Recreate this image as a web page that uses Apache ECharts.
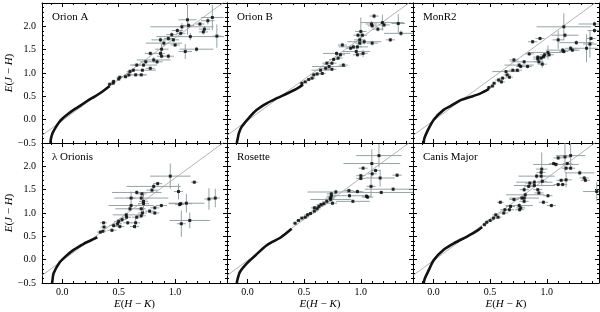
<!DOCTYPE html>
<html><head><meta charset="utf-8">
<script src="https://cdn.jsdelivr.net/npm/echarts@6/dist/echarts.min.js"></script>
<style>html,body{margin:0;padding:0;background:#fff}#c{width:600px;height:312px}</style>
</head><body><div id="c"></div>
<script>
// ---------- data ----------
const panelNames = ['Orion A', 'Orion B', 'MonR2', 'λ Orionis', 'Rosette', 'Canis Major'];
const xMajorTicks = [0.0, 0.5, 1.0];
const yTickLabels = ['−0.5', '0.0', '0.5', '1.0', '1.5', '2.0'];
const refSlope = 1.77, refIntercept = -0.02;

// intrinsic (dense) locus per panel: [E(H-K), E(J-H)]
const curveOrionA = [[-0.105,-0.5],[-0.1,-0.4],[-0.085,-0.28],[-0.06,-0.17],[-0.03,-0.06],[0.0,0.02],[0.05,0.12],[0.10,0.21],[0.16,0.30],[0.22,0.40],[0.29,0.50],[0.36,0.61],[0.42,0.72]];
const curveOrionB = [[-0.094,-0.5],[-0.085,-0.4],[-0.075,-0.29],[-0.05,-0.15],[0.01,0.03],[0.083,0.21],[0.17,0.35],[0.26,0.46],[0.35,0.56],[0.44,0.67],[0.49,0.75]];
const curveMonR2 = [[-0.086,-0.5],[-0.08,-0.4],[-0.056,-0.26],[0.003,0.0],[0.09,0.21],[0.15,0.29],[0.24,0.42],[0.33,0.49],[0.42,0.57],[0.49,0.66]];
const curveLambdaOri = [[-0.09,-0.5],[-0.085,-0.4],[-0.077,-0.29],[-0.03,-0.08],[0.027,0.065],[0.10,0.21],[0.19,0.34],[0.25,0.41],[0.31,0.48]];
const curveRosette = [[-0.094,-0.5],[-0.085,-0.4],[-0.065,-0.26],[-0.005,-0.08],[0.07,0.09],[0.17,0.31],[0.29,0.47],[0.35,0.58],[0.39,0.66]];
const curveCMa = [[-0.086,-0.5],[-0.075,-0.4],[-0.04,-0.22],[0.003,-0.01],[0.09,0.21],[0.18,0.35],[0.30,0.50],[0.38,0.61],[0.43,0.70]];

// individual stars: [E(H-K), E(J-H), err E(H-K), err E(J-H)]
const starsOrionA = [[1.33,2.19,0.10,0.27],[1.29,2.12,0.06,0.08],[1.26,1.94,0.05,0.06],[1.25,1.88,0.04,0.05],[1.37,1.79,0.04,0.25],[1.22,2.05,0.04,0.04],[1.11,2.14,0.08,0.32],[1.12,2.02,0.05,0.06],[1.06,1.99,0.28,0.08],[1.02,1.91,0.05,0.05],[1.05,1.85,0.04,0.05],[1.135,1.78,0.30,0.08],[0.97,1.82,0.05,0.05],[0.94,1.74,0.04,0.05],[0.985,1.71,0.05,0.04],[0.87,1.71,0.08,0.05],[0.90,1.64,0.16,0.06],[1.00,1.60,0.04,0.04],[1.09,1.46,0.06,0.16],[1.19,1.51,0.15,0.05],[0.88,1.51,0.06,0.12],[0.87,1.42,0.04,0.05],[0.88,1.36,0.04,0.04],[0.94,1.36,0.05,0.05],[0.78,1.42,0.05,0.04],[0.81,1.28,0.15,0.06],[0.84,1.24,0.05,0.05],[0.74,1.24,0.05,0.04],[0.72,1.17,0.12,0.04],[0.78,1.10,0.04,0.04],[0.66,1.17,0.04,0.04],[0.63,1.06,0.04,0.03],[0.71,1.06,0.12,0.03],[0.70,0.96,0.04,0.03],[0.60,1.03,0.03,0.03],[0.59,0.96,0.03,0.03],[0.65,0.96,0.10,0.03],[0.56,0.92,0.03,0.03],[0.51,0.91,0.03,0.02],[0.50,0.87,0.02,0.02],[0.455,0.82,0.02,0.02],[0.42,0.76,0.02,0.02],[0.45,0.78,0.02,0.02]];
const starsOrionB = [[1.117,2.22,0.04,0.05],[1.094,2.05,0.05,0.06],[1.10,2.01,0.04,0.05],[1.19,2.08,0.19,0.17],[1.205,2.03,0.05,0.05],[1.33,2.06,0.06,0.20],[1.354,1.85,0.15,0.06],[1.26,1.71,0.04,0.04],[1.15,1.94,0.05,0.05],[1.00,1.89,0.05,0.30],[0.975,1.81,0.04,0.05],[1.014,1.81,0.04,0.04],[0.99,1.71,0.05,0.05],[1.03,1.67,0.15,0.06],[0.99,1.64,0.04,0.04],[0.934,1.56,0.13,0.05],[0.97,1.56,0.04,0.05],[0.91,1.53,0.04,0.04],[0.837,1.60,0.04,0.04],[0.96,1.46,0.12,0.08],[1.02,1.42,0.04,0.08],[0.97,1.39,0.04,0.04],[1.10,1.64,0.05,0.05],[0.786,1.42,0.12,0.04],[0.82,1.39,0.04,0.04],[0.80,1.32,0.04,0.04],[0.76,1.29,0.04,0.04],[0.745,1.21,0.04,0.04],[0.846,1.17,0.04,0.04],[0.70,1.21,0.04,0.04],[0.72,1.14,0.15,0.04],[0.69,1.10,0.04,0.03],[0.745,1.08,0.04,0.03],[0.645,1.06,0.08,0.03],[0.66,0.99,0.03,0.03],[0.615,0.98,0.03,0.03],[0.585,0.96,0.03,0.03],[0.57,0.89,0.03,0.03],[0.54,0.86,0.02,0.02],[0.51,0.81,0.02,0.02],[0.48,0.78,0.02,0.02]];
const starsMonR2 = [[1.15,1.99,0.24,0.29],[1.16,1.81,0.12,0.05],[1.42,2.05,0.14,0.05],[1.42,1.91,0.06,0.05],[1.10,1.71,0.05,0.20],[1.26,1.65,0.15,0.05],[1.39,1.74,0.04,0.04],[1.38,1.62,0.06,0.29],[1.21,1.53,0.05,0.05],[1.14,1.49,0.15,0.05],[1.15,1.46,0.04,0.04],[1.225,1.49,0.04,0.04],[1.35,1.53,0.10,0.30],[0.94,1.74,0.04,0.04],[0.875,1.67,0.04,0.04],[1.01,1.44,0.15,0.15],[1.02,1.39,0.04,0.04],[0.98,1.39,0.04,0.04],[0.97,1.35,0.04,0.04],[0.95,1.32,0.04,0.04],[0.92,1.30,0.04,0.04],[0.93,1.24,0.04,0.04],[0.92,1.34,0.04,0.04],[0.96,1.19,0.04,0.08],[0.845,1.41,0.04,0.04],[0.80,1.24,0.12,0.04],[0.83,1.14,0.04,0.04],[0.71,1.28,0.04,0.04],[0.756,1.17,0.13,0.04],[0.77,1.14,0.04,0.04],[0.70,1.06,0.04,0.03],[0.74,1.06,0.04,0.03],[0.64,1.03,0.12,0.03],[0.65,0.96,0.03,0.03],[0.67,0.91,0.03,0.03],[0.61,0.89,0.03,0.03],[0.60,0.81,0.03,0.03],[0.575,0.85,0.03,0.03],[0.535,0.78,0.02,0.02],[0.52,0.72,0.02,0.02],[0.49,0.69,0.02,0.02]];
const starsLambdaOri = [[0.957,1.79,0.18,0.27],[1.17,1.66,0.03,0.03],[0.845,1.63,0.04,0.04],[0.81,1.57,0.24,0.05],[0.795,1.49,0.05,0.05],[1.03,1.46,0.04,0.17],[0.66,1.44,0.22,0.05],[0.706,1.41,0.04,0.04],[0.70,1.32,0.24,0.05],[0.61,1.32,0.04,0.14],[0.72,1.25,0.04,0.05],[0.72,1.20,0.05,0.20],[1.30,1.30,0.04,0.23],[1.356,1.32,0.04,0.20],[1.05,1.20,0.10,0.04],[1.04,1.18,0.04,0.04],[1.10,1.21,0.16,0.20],[0.878,1.16,0.05,0.04],[0.82,1.11,0.04,0.04],[0.82,1.00,0.04,0.04],[0.774,1.04,0.04,0.04],[0.61,1.16,0.20,0.05],[0.60,1.09,0.13,0.05],[0.70,1.09,0.04,0.04],[0.71,1.00,0.04,0.04],[0.70,0.94,0.04,0.04],[0.66,0.91,0.04,0.04],[0.567,0.96,0.12,0.04],[0.57,0.91,0.04,0.04],[0.53,0.86,0.04,0.04],[0.50,0.82,0.04,0.04],[0.49,0.77,0.04,0.04],[0.65,0.79,0.04,0.12],[0.64,0.71,0.04,0.04],[0.58,0.79,0.04,0.04],[0.455,0.73,0.04,0.04],[0.44,0.63,0.04,0.04],[0.51,0.71,0.04,0.04],[0.366,0.79,0.03,0.03],[0.37,0.70,0.03,0.03],[0.36,0.61,0.03,0.03],[0.337,0.59,0.03,0.03],[1.13,0.84,0.18,0.17],[1.055,0.77,0.04,0.28]];
const starsRosette = [[1.16,2.23,0.20,0.25],[1.02,1.96,0.04,0.04],[1.097,2.06,0.25,0.30],[1.13,1.91,0.04,0.04],[1.10,1.84,0.04,0.04],[1.00,1.80,0.04,0.04],[1.00,1.74,0.04,0.04],[1.17,1.75,0.13,0.18],[1.32,1.81,0.04,0.04],[1.09,1.57,0.04,0.23],[1.18,1.44,0.30,0.04],[1.285,1.51,0.25,0.04],[1.05,1.36,0.04,0.04],[1.06,1.34,0.05,0.04],[0.97,1.46,0.04,0.04],[0.895,1.48,0.04,0.04],[0.90,1.37,0.16,0.04],[0.93,1.25,0.15,0.04],[0.78,1.45,0.25,0.05],[0.74,1.41,0.04,0.05],[0.74,1.36,0.04,0.04],[0.735,1.29,0.18,0.04],[0.73,1.32,0.04,0.04],[0.75,1.21,0.04,0.04],[0.70,1.25,0.04,0.04],[0.674,1.20,0.04,0.04],[0.65,1.18,0.04,0.04],[0.63,1.14,0.04,0.04],[0.615,1.09,0.03,0.03],[0.59,1.11,0.03,0.03],[0.59,1.04,0.03,0.03],[0.556,0.99,0.03,0.03],[0.53,0.96,0.03,0.03],[0.51,0.91,0.03,0.03],[0.48,0.89,0.02,0.02],[0.45,0.84,0.02,0.02],[0.42,0.78,0.02,0.02]];
const starsCMa = [[1.16,2.20,0.05,0.32],[1.10,2.18,0.04,0.04],[1.21,2.23,0.13,0.27],[1.06,2.06,0.04,0.04],[1.08,2.04,0.20,0.05],[1.18,2.06,0.04,0.04],[1.17,1.96,0.04,0.04],[1.21,1.96,0.04,0.04],[1.29,1.86,0.13,0.05],[1.33,1.75,0.04,0.04],[1.34,1.70,0.04,0.04],[1.44,1.46,0.12,0.20],[1.17,1.71,0.05,0.16],[1.126,1.70,0.04,0.04],[1.10,1.61,0.04,0.04],[1.14,1.61,0.04,0.04],[0.955,1.94,0.05,0.36],[0.95,1.87,0.04,0.04],[0.91,1.79,0.16,0.05],[0.95,1.79,0.04,0.04],[0.96,1.68,0.04,0.04],[0.89,1.66,0.16,0.05],[0.89,1.59,0.18,0.05],[0.85,1.64,0.04,0.04],[0.84,1.57,0.04,0.04],[0.92,1.50,0.04,0.04],[0.93,1.43,0.04,0.04],[1.01,1.37,0.04,0.04],[0.97,1.23,0.04,0.04],[1.04,1.16,0.04,0.04],[0.80,1.50,0.04,0.05],[0.81,1.39,0.17,0.05],[0.80,1.32,0.13,0.05],[0.80,1.25,0.04,0.05],[0.78,1.32,0.04,0.04],[0.756,1.16,0.12,0.05],[0.77,1.11,0.04,0.04],[0.76,1.07,0.04,0.04],[0.71,1.29,0.04,0.04],[0.68,1.14,0.04,0.04],[0.67,1.07,0.04,0.04],[0.59,1.23,0.03,0.03],[0.63,1.07,0.04,0.04],[0.62,1.00,0.04,0.04],[0.55,0.96,0.03,0.03],[0.57,0.91,0.03,0.03],[0.53,0.89,0.03,0.03],[0.50,0.84,0.03,0.03],[0.47,0.80,0.02,0.02],[0.45,0.75,0.02,0.02]];

const curves = [curveOrionA, curveOrionB, curveMonR2, curveLambdaOri, curveRosette, curveCMa];
const stars = [starsOrionA, starsOrionB, starsMonR2, starsLambdaOri, starsRosette, starsCMa];

// ---------- layout / style ----------
const X_MIN = -0.18, X_MAX = 1.46, Y_MIN = -0.5, Y_MAX = 2.5;
const colLeft = [42, 227, 413], colWidth = [185, 186, 186];
const rowTop = [3, 143], rowHeight = 140;
const FONT = 'Liberation Serif';
const ERR_COLOR = '#95a3a3';
const LINE_COLOR = '#a0a0a0';

const xMinorTicks = [];
for (let v = -0.1; v < X_MAX; v += 0.1) {
  const r = Math.round(v * 10) / 10;
  if (Math.abs(r * 2 - Math.round(r * 2)) > 1e-6) xMinorTicks.push(r);
}

const grids = [], xAxes = [], yAxes = [], series = [], graphics = [];

function yFmt(v) {
  const idx = Math.round((v - Y_MIN) / 0.5);
  return yTickLabels[idx] !== undefined ? yTickLabels[idx] : '';
}

function renderErr(params, api) {
  const x = api.value(0), y = api.value(1), xe = api.value(2), ye = api.value(3);
  const cs = params.coordSys;
  const cx = v => Math.max(cs.x, Math.min(cs.x + cs.width, v));
  const cy = v => Math.max(cs.y, Math.min(cs.y + cs.height, v));
  const l = api.coord([x - xe, y]), r = api.coord([x + xe, y]);
  const t = api.coord([x, y + ye]), b = api.coord([x, y - ye]);
  const style = { stroke: ERR_COLOR, lineWidth: 1 };
  return { type: 'group', children: [
    { type: 'line', shape: { x1: cx(l[0]), y1: l[1], x2: cx(r[0]), y2: r[1] }, style },
    { type: 'line', shape: { x1: t[0], y1: cy(t[1]), x2: b[0], y2: cy(b[1]) }, style }
  ]};
}

for (let i = 0; i < 6; i++) {
  const row = Math.floor(i / 3), col = i % 3;
  grids.push({ left: colLeft[col], top: rowTop[row], width: colWidth[col], height: rowHeight, containLabel: false });
  const xBase = {
    type: 'value', gridIndex: i, min: X_MIN, max: X_MAX,
    axisLine: { show: true, onZero: false, lineStyle: { color: '#000', width: 1 } },
    splitLine: { show: false }
  };
  ['bottom', 'top'].forEach(pos => {
    xAxes.push(Object.assign({}, xBase, {
      position: pos,
      axisTick: { show: true, inside: true, length: 4, customValues: xMajorTicks, lineStyle: { color: '#000' } },
      axisLabel: { show: pos === 'bottom' && row === 1, customValues: xMajorTicks, margin: 4,
        formatter: v => v.toFixed(1), fontFamily: FONT, fontSize: 10, color: '#000' }
    }));
  });
  ['bottom', 'top'].forEach(pos => {
    xAxes.push(Object.assign({}, xBase, {
      position: pos, axisLine: { show: false, onZero: false },
      axisTick: { show: true, inside: true, length: 2, customValues: xMinorTicks, lineStyle: { color: '#000' } },
      axisLabel: { show: false }
    }));
  });
  ['left', 'right'].forEach(pos => {
    yAxes.push({
      type: 'value', gridIndex: i, min: Y_MIN, max: Y_MAX, interval: 0.5, position: pos,
      axisLine: { show: true, onZero: false, lineStyle: { color: '#000', width: 1 } },
      splitLine: { show: false },
      axisTick: { show: true, inside: true, length: 4, lineStyle: { color: '#000' } },
      minorTick: { show: true, splitNumber: 5, length: 2, lineStyle: { color: '#000' } },
      axisLabel: { show: pos === 'left' && col === 0, showMaxLabel: false, margin: 6, formatter: yFmt,
        fontFamily: FONT, fontSize: 10, color: '#000' }
    });
  });
  const xi = i * 4, yi = i * 2;
  series.push({
    type: 'custom', xAxisIndex: xi, yAxisIndex: yi, renderItem: renderErr,
    data: stars[i], encode: { x: 0, y: 1 }, silent: true, z: 1
  });
  series.push({
    type: 'line', xAxisIndex: xi, yAxisIndex: yi, showSymbol: false, silent: true, z: 2,
    lineStyle: { color: LINE_COLOR, width: 0.8 },
    data: [[X_MIN, refSlope * X_MIN + refIntercept], [X_MAX, refSlope * X_MAX + refIntercept]]
  });
  series.push({
    type: 'line', xAxisIndex: xi, yAxisIndex: yi, showSymbol: false, silent: true, z: 3,
    smooth: 0.3, lineStyle: { color: '#111', width: 2.6 }, data: curves[i]
  });
  series.push({
    type: 'scatter', xAxisIndex: xi, yAxisIndex: yi, silent: true, z: 4,
    symbol: 'rect', symbolSize: 3, itemStyle: { color: '#000' },
    data: stars[i].map(s => [s[0], s[1]])
  });
  graphics.push({
    type: 'text', left: colLeft[col] + 10, top: rowTop[row] + 9,
    style: { text: panelNames[i], font: '11px "Liberation Serif"', fill: '#000' }
  });
}

const richAxis = {
  i: { fontFamily: FONT, fontStyle: 'italic', fontSize: 11, fill: '#000' },
  n: { fontFamily: FONT, fontSize: 11, fill: '#000' }
};
for (let col = 0; col < 3; col++) {
  graphics.push({
    type: 'text', x: colLeft[col] + colWidth[col] / 2, y: 304,
    style: { text: '{i|E}{n|(}{i|H}{n| − }{i|K}{n|)}', rich: richAxis, align: 'center', verticalAlign: 'middle' }
  });
}
for (let row = 0; row < 2; row++) {
  graphics.push({
    type: 'text', x: 9, y: rowTop[row] + rowHeight / 2, rotation: Math.PI / 2,
    style: { text: '{i|E}{n|(}{i|J}{n| − }{i|H}{n|)}', rich: richAxis, align: 'center', verticalAlign: 'middle' }
  });
}

const chart = echarts.init(document.getElementById('c'), null, { renderer: 'canvas' });
chart.setOption({
  animation: false, backgroundColor: '#fff',
  grid: grids, xAxis: xAxes, yAxis: yAxes, series, graphic: graphics
});
</script></body></html>
